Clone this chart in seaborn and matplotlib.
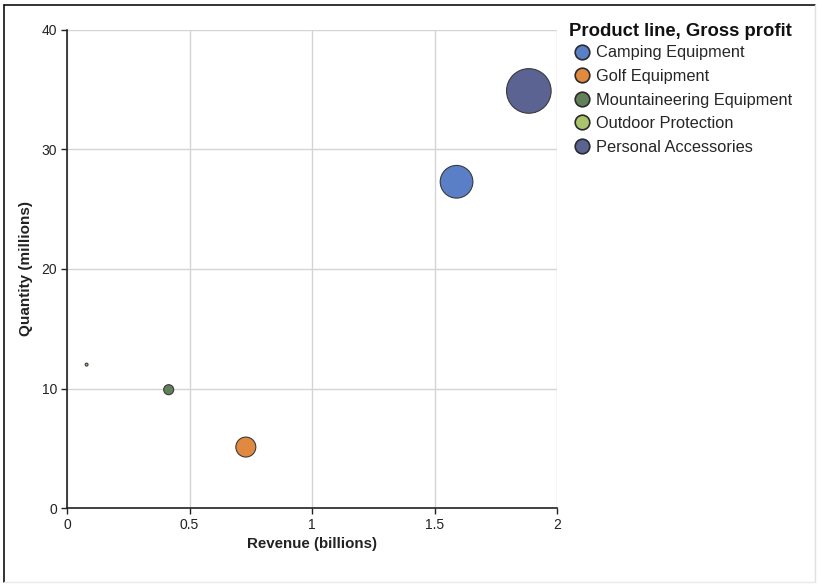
import matplotlib
matplotlib.use("Agg")
import matplotlib.pyplot as plt
from matplotlib.lines import Line2D
import seaborn as sns
import pandas as pd

products = ["Camping Equipment", "Golf Equipment", "Mountaineering Equipment",
            "Outdoor Protection", "Personal Accessories"]
revenue = [1.59, 0.73, 0.415, 0.08, 1.885]          # billions
quantity = [27.3, 5.1, 9.9, 12.0, 34.9]             # millions
gross_profit = [0.51, 0.19, 0.048, 0.004, 0.95]     # billions (bubble size)
colors = ["#5b7fc6", "#e0893f", "#62805a", "#a9c46c", "#5b6392"]
x_ticks = [0, 0.5, 1, 1.5, 2]
x_tick_labels = ["0", "0.5", "1", "1.5", "2"]
y_ticks = [0, 10, 20, 30, 40]

df = pd.DataFrame({"product": products, "revenue": revenue,
                   "quantity": quantity, "profit": gross_profit})

sns.set_style("white")
plt.rcParams["font.family"] = ["Liberation Sans", "DejaVu Sans"]

fig = plt.figure(figsize=(8.22, 5.88), dpi=100)
ax = fig.add_axes([67/822, 1-508/588, (557-67)/822, (508-30)/588])

smax = (44.6 * 0.72) ** 2
sns.scatterplot(data=df, x="revenue", y="quantity", hue="product",
                palette=dict(zip(products, colors)), size="profit",
                sizes=(0, smax), size_norm=(0, max(gross_profit)),
                edgecolor="#3a3a3a", linewidth=0.8, legend=False, ax=ax,
                zorder=3, alpha=1)

ax.set_xlim(0, 2)
ax.set_ylim(0, 40)
ax.set_xticks(x_ticks)
ax.set_xticklabels(x_tick_labels)
ax.set_yticks(y_ticks)
ax.grid(True, color="#d4d4d4", linewidth=1.0, zorder=0)
ax.set_axisbelow(True)
for s in ["top", "right"]:
    ax.spines[s].set_visible(False)
for s in ["left", "bottom"]:
    ax.spines[s].set_color("#222222")
    ax.spines[s].set_linewidth(1.2)
ax.tick_params(axis="both", direction="out", length=4, width=1.0,
               color="#222222", labelsize=10, labelcolor="#222222", pad=3,
               left=True, bottom=True)
ax.set_xlabel("Revenue (billions)", fontsize=10.9, fontweight="bold",
              color="#222222", labelpad=4)
ax.set_ylabel("Quantity (millions)", fontsize=11, fontweight="bold",
              color="#222222", labelpad=6)

handles = [Line2D([0], [0], marker="o", linestyle="none", markersize=10.5,
                  markerfacecolor=c, markeredgecolor="#2a2a2a",
                  markeredgewidth=1.2) for c in colors]
leg = fig.legend(handles, products, loc="upper left",
                 bbox_to_anchor=(561/822, 1-34/588), frameon=False,
                 fontsize=11.8, handletextpad=0.25, labelspacing=0.52,
                 borderpad=0.2, handlelength=1.2)
fig.text(569/822, 1-32/588, "Product line, Gross profit", ha="left",
         va="center", fontsize=13.3, fontweight="bold", color="#111111")

# outer frame
fig.add_artist(Line2D([4/822, 4/822], [1-5/588, 1-582/588], color="#111111",
                      linewidth=1.2, transform=fig.transFigure))
fig.add_artist(Line2D([4/822, 815/822], [1-5/588, 1-5/588], color="#111111",
                      linewidth=1.2, transform=fig.transFigure))
fig.add_artist(Line2D([815/822, 815/822], [1-5/588, 1-582/588], color="#e0e0e0",
                      linewidth=1.0, transform=fig.transFigure))
fig.add_artist(Line2D([4/822, 815/822], [1-582/588, 1-582/588], color="#e8e8e8",
                      linewidth=1.0, transform=fig.transFigure))

fig.savefig("out.png", dpi=100)
